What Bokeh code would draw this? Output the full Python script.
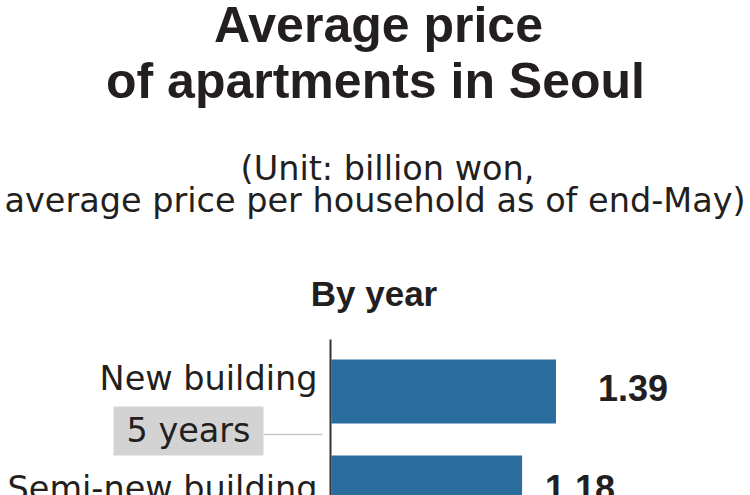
from bokeh.plotting import figure
from bokeh.models import Range1d, ColumnDataSource
from bokeh.core.properties import value
from bokeh.embed import file_html
from bokeh.resources import INLINE

# ---- data ----
categories = ["New building", "Semi-new building"]
prices = [1.39, 1.18]          # billion won
price_labels = ["1.39", "1.18"]

title_lines = ["Average price", "of apartments in Seoul"]
subtitle_lines = ["(Unit: billion won,", "average price per household as of end-May)"]
section_title = "By year"
divider_text = "5 years"

# ---- layout helpers (pixel -> data) ----
PX0, PX_PER = 331.0, 161.5     # x pixel of value 0, pixels per billion won
PY0, PY_PER = 391.0, 96.0      # y pixel of first category centre, pixels per category
BASE_FIX = 0.36                # svg baseline correction (fraction of font size)


def dx(px):
    return (px - PX0) / PX_PER


def dy(py):
    return (py - PY0) / PY_PER


def tb(py, size):
    """data y for a wanted text baseline pixel"""
    return dy(py - BASE_FIX * size)


INK = "#231f20"
BAR = "#2b6c9f"
CAT_SIZE = 33.5
VAL_SIZE = 36
TITLE_SIZE = 50
SUB_SIZE = 33.5
SEC_SIZE = 35

p = figure(width=750, height=495,
           x_range=Range1d(dx(0), dx(750)),
           y_range=Range1d(dy(495), dy(0)),
           output_backend="svg", toolbar_location=None,
           x_axis_location=None, y_axis_location=None,
           min_border=0, title=None)
p.grid.visible = False
p.outline_line_color = None
p.background_fill_color = "white"
p.border_fill_color = "white"

idx = list(range(len(categories)))
src = ColumnDataSource(dict(
    y=idx, right=prices, cat=categories, lab=price_labels,
    lab_dx=[42, 23],
    cat_dy=[-1 - BASE_FIX * CAT_SIZE, 13 - BASE_FIX * CAT_SIZE],
    val_dy=[9 - BASE_FIX * VAL_SIZE, 13 - BASE_FIX * VAL_SIZE],
))

# bars
p.hbar(y="y", left=0, right="right", height=64 / PY_PER, fill_color=BAR,
       line_color=None, source=src)

# axis line
p.segment(x0=[dx(330)], y0=[dy(339)], x1=[dx(330)], y1=[dy(495)],
          line_color="#333333", line_width=2)

# category labels
p.text(x=0, y="y", text="cat", source=src, x_offset=-14, y_offset="cat_dy",
       text_align="right", text_baseline="alphabetic",
       text_font=value("DejaVu Sans"), text_font_size=f"{CAT_SIZE}px", text_color=INK)

# value labels
p.text(x="right", y="y", text="lab", source=src, x_offset="lab_dx", y_offset="val_dy",
       text_align="left", text_baseline="alphabetic",
       text_font=value("Liberation Sans"), text_font_style="bold",
       text_font_size=f"{VAL_SIZE}px", text_color=INK)

# "5 years" divider box and connector line
p.quad(left=[dx(113)], right=[dx(263)], top=[dy(406)], bottom=[dy(455)],
       fill_color="#d3d3d3", line_color=None)
p.segment(x0=[dx(263)], y0=[dy(434)], x1=[dx(322)], y1=[dy(434)],
          line_color="#c6c6c6", line_width=1.5)
p.text(x=[dx(188)], y=[tb(442, CAT_SIZE)], text=[divider_text], text_align="center",
       text_baseline="alphabetic", text_font=value("DejaVu Sans"),
       text_font_size=f"{CAT_SIZE}px", text_color=INK)

# titles
p.text(x=[dx(378), dx(375)], y=[tb(42, TITLE_SIZE), tb(98, TITLE_SIZE)], text=title_lines,
       text_align="center", text_baseline="alphabetic",
       text_font=value("Liberation Sans"), text_font_style="bold",
       text_font_size=f"{TITLE_SIZE}px", text_color=INK)

p.text(x=[dx(387), dx(374.5)], y=[tb(180, SUB_SIZE), tb(212, SUB_SIZE)], text=subtitle_lines,
       text_align="center", text_baseline="alphabetic",
       text_font=value("DejaVu Sans"), text_font_size=f"{SUB_SIZE}px", text_color=INK)

p.text(x=[dx(373.5)], y=[tb(306, SEC_SIZE)], text=[section_title],
       text_align="center", text_baseline="alphabetic",
       text_font=value("Liberation Sans"), text_font_style="bold",
       text_font_size=f"{SEC_SIZE}px", text_color=INK)

open("out.html", "w").write(file_html(p, INLINE))
